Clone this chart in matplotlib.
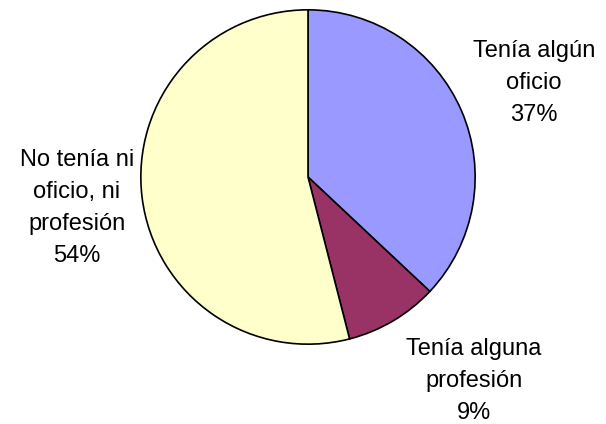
import matplotlib
matplotlib.use("Agg")
import matplotlib.pyplot as plt

categories = ["Tenía algún\noficio", "Tenía alguna\nprofesión", "No tenía ni\noficio, ni\nprofesión"]
values = [37, 9, 54]
colors = ["#9999FF", "#993366", "#FFFFCC"]
label_pos = [(534, 83), (474, 381), (77, 208)]  # pixel centers

W, H = 606, 424
fig = plt.figure(figsize=(W / 100, H / 100), dpi=100)
plt.rcParams['font.family'] = ['Liberation Sans', 'DejaVu Sans']

cx, cy, r = 308, 177, 168
ax = fig.add_axes([(cx - r) / W, (H - cy - r) / H, 2 * r / W, 2 * r / H])
ax.pie(values, colors=colors, startangle=90, counterclock=False,
       wedgeprops=dict(edgecolor="black", linewidth=1.2))
ax.set_xlim(-1.005, 1.005)
ax.set_ylim(-1.005, 1.005)
ax.set_aspect("equal")
ax.axis("off")

for cat, v, (px, py) in zip(categories, values, label_pos):
    fig.text(px / W, 1 - py / H, f"{cat}\n{v}%", ha="center", va="center",
             fontsize=17, linespacing=1.58, color="black")

fig.savefig("out.png", dpi=100)
